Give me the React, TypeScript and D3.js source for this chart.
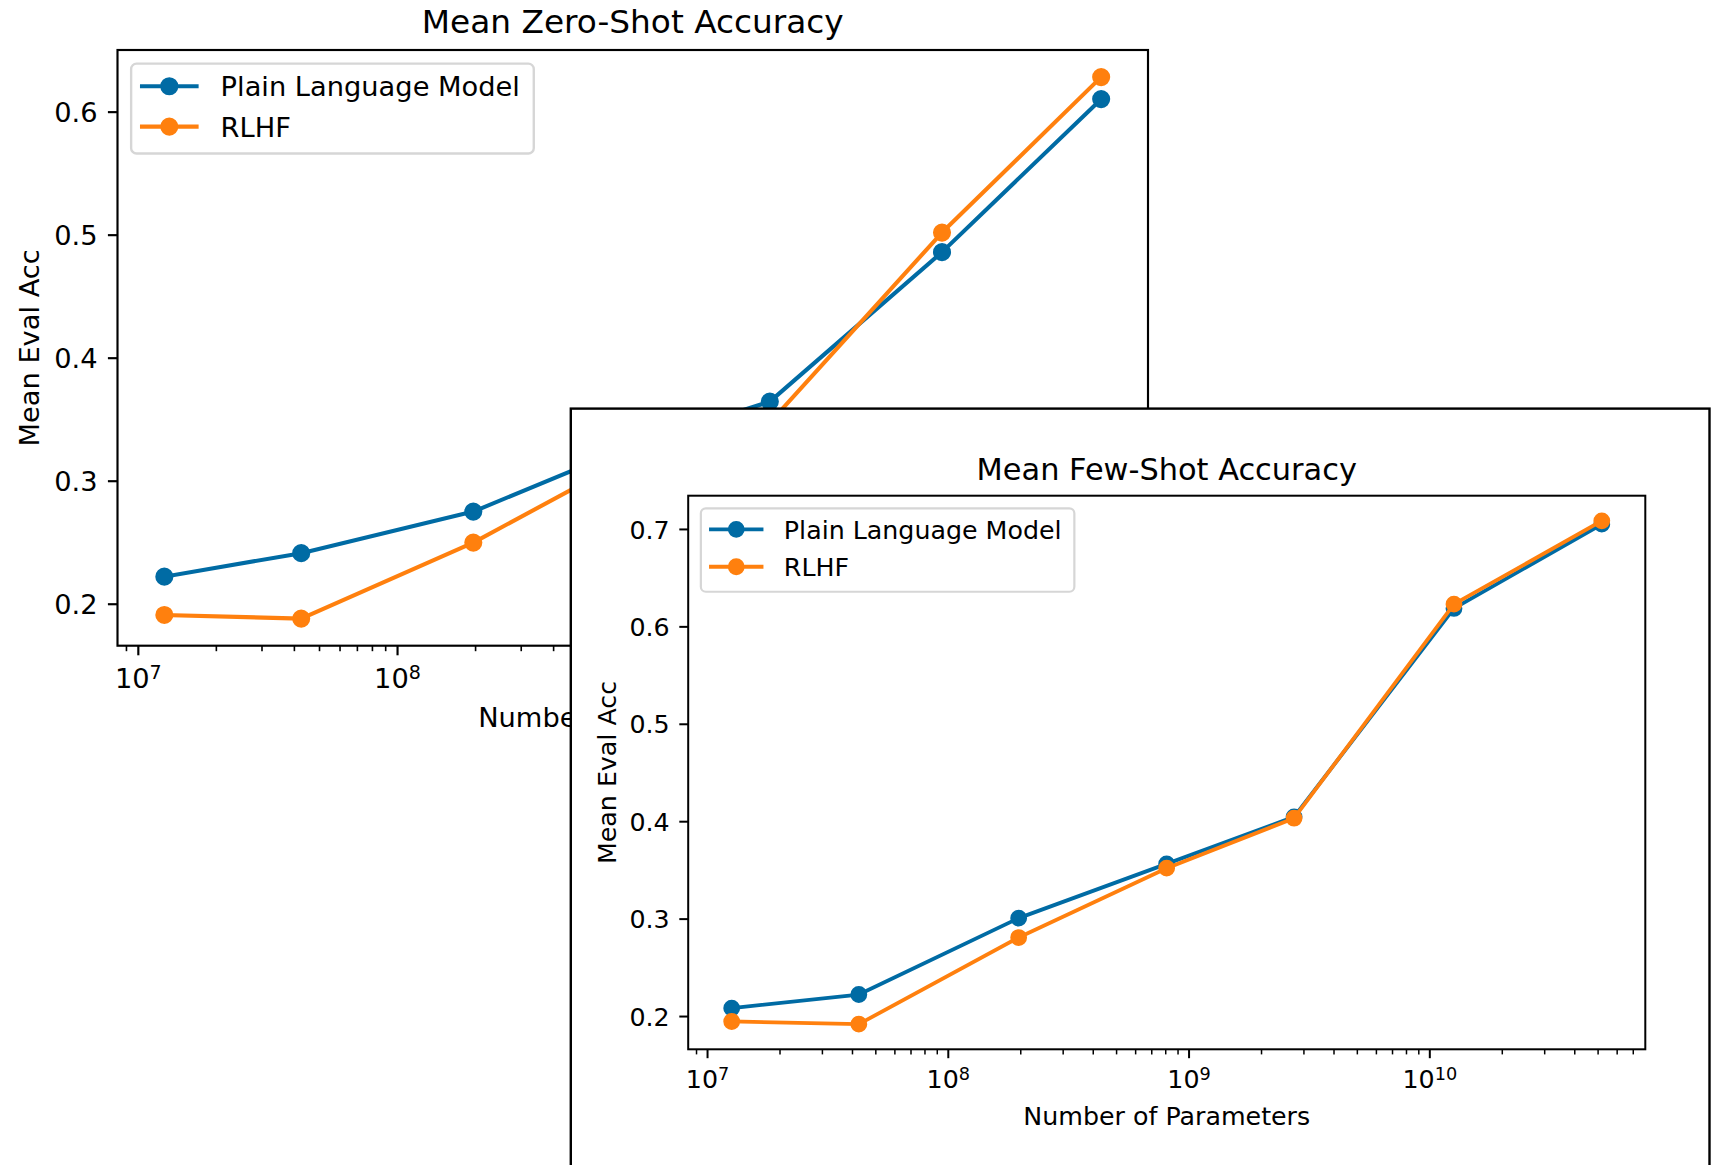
import React from "react";
import * as d3 from "d3";

// Number of parameters (x, log scale)
const PARAMS = [1.26e7, 4.25e7, 1.96e8, 8.07e8, 2.73e9, 1.26e10, 5.18e10];

// Mean zero-shot accuracy
const ZERO_PLAIN = [0.2224, 0.2415, 0.2753, 0.329, 0.3647, 0.4862, 0.6106];
const ZERO_RLHF = [0.1913, 0.1883, 0.2501, 0.32, 0.3476, 0.5021, 0.6285];

// Mean few-shot accuracy
const FEW_PLAIN = [0.2086, 0.2226, 0.301, 0.3567, 0.405, 0.6189, 0.7054];
const FEW_RLHF = [0.1949, 0.1922, 0.2811, 0.3523, 0.4036, 0.6233, 0.7088];

const SERIES_NAMES = ["Plain Language Model", "RLHF"];
const COLORS = ["#006BA4", "#FF800E"];

const ZERO_Y_TICKS = [0.2, 0.3, 0.4, 0.5, 0.6];
const FEW_Y_TICKS = [0.2, 0.3, 0.4, 0.5, 0.6, 0.7];
const X_TICK_EXPONENTS = [7, 8, 9, 10];

const TITLES = ["Mean Zero-Shot Accuracy", "Mean Few-Shot Accuracy"];
const X_LABEL = "Number of Parameters";
const Y_LABEL = "Mean Eval Acc";

const FONT = "DejaVu Sans, Verdana, sans-serif";

type ChartProps = {
  x0: number;
  y0: number;
  w: number;
  h: number;
  s: number;
  title: string;
  series: number[][];
  yTicks: number[];
};

function Chart({ x0, y0, w, h, s, title, series, yTicks }: ChartProps) {
  const lo = Math.log10(d3.min(PARAMS) as number);
  const hi = Math.log10(d3.max(PARAMS) as number);
  const mx = (hi - lo) * 0.05;
  const x = d3
    .scaleLog()
    .domain([Math.pow(10, lo - mx), Math.pow(10, hi + mx)])
    .range([x0, x0 + w]);
  const all = series.flat();
  const ymin = d3.min(all) as number;
  const ymax = d3.max(all) as number;
  const my = (ymax - ymin) * 0.05;
  const y = d3
    .scaleLinear()
    .domain([ymin - my, ymax + my])
    .range([y0 + h, y0]);

  const [dlo, dhi] = x.domain();
  const minor: number[] = [];
  for (let d = 5; d <= 11; d++) {
    for (let k = 2; k <= 9; k++) {
      const v = k * Math.pow(10, d);
      if (v >= dlo && v <= dhi) minor.push(v);
    }
  }
  const major = X_TICK_EXPONENTS.map((e) => Math.pow(10, e)).filter(
    (v) => v >= dlo && v <= dhi
  );

  const fs = 25.3 * s;
  const tfs = 30.4 * s;
  const lw = 3.8 * s;
  const r = 7.6 * s;

  const line = d3
    .line<number>()
    .x((_, i) => x(PARAMS[i]))
    .y((d) => y(d));

  const legL = x0 + 12.65 * s;
  const legT = y0 + 12.65 * s;

  return (
    <g>
      {/* data */}
      {series.map((vals, si) => (
        <g key={si}>
          <path
            d={line(vals) || ""}
            fill="none"
            stroke={COLORS[si]}
            strokeWidth={lw}
            strokeLinejoin="round"
            strokeLinecap="square"
          />
          {vals.map((v, i) => (
            <circle
              key={i}
              cx={x(PARAMS[i])}
              cy={y(v)}
              r={r}
              fill={COLORS[si]}
              stroke={COLORS[si]}
              strokeWidth={1.6 * s}
            />
          ))}
        </g>
      ))}
      {/* spines */}
      <rect
        x={x0}
        y={y0}
        width={w}
        height={h}
        fill="none"
        stroke="#000"
        strokeWidth={2 * s}
      />
      {/* y ticks */}
      {yTicks.map((t) => (
        <g key={"y" + t}>
          <line
            x1={x0}
            x2={x0 - 8.9 * s}
            y1={y(t)}
            y2={y(t)}
            stroke="#000"
            strokeWidth={2 * s}
          />
          <text
            x={x0 - 18.5 * s}
            y={y(t) + 0.3645 * fs}
            fontSize={fs}
            fontFamily={FONT}
            textAnchor="end"
            fill="#000"
          >
            {t.toFixed(1)}
          </text>
        </g>
      ))}
      {/* x minor ticks */}
      {minor.map((v) => (
        <line
          key={"m" + v}
          x1={x(v)}
          x2={x(v)}
          y1={y0 + h}
          y2={y0 + h + 5.1 * s}
          stroke="#000"
          strokeWidth={1.5 * s}
        />
      ))}
      {/* x major ticks */}
      {major.map((v) => (
        <g key={"M" + v}>
          <line
            x1={x(v)}
            x2={x(v)}
            y1={y0 + h}
            y2={y0 + h + 8.9 * s}
            stroke="#000"
            strokeWidth={2 * s}
          />
          <text
            x={x(v)}
            y={y0 + h + 39 * s}
            fontSize={fs}
            fontFamily={FONT}
            textAnchor="middle"
            fill="#000"
          >
            10
            <tspan fontSize={fs * 0.7} dy={-8.3 * s}>
              {String(Math.round(Math.log10(v)))}
            </tspan>
          </text>
        </g>
      ))}
      {/* axis labels */}
      <text
        x={x0 + w / 2}
        y={y0 + h + 75.7 * s}
        fontSize={fs}
        fontFamily={FONT}
        textAnchor="middle"
        fill="#000"
      >
        {X_LABEL}
      </text>
      <text
        transform={`translate(${x0 - 72.7 * s},${y0 + h / 2}) rotate(-90)`}
        fontSize={fs}
        fontFamily={FONT}
        textAnchor="middle"
        fill="#000"
      >
        {Y_LABEL}
      </text>
      {/* title */}
      <text
        x={x0 + w / 2}
        y={y0 - 15.5 * s}
        fontSize={tfs}
        fontFamily={FONT}
        textAnchor="middle"
        fill="#000"
      >
        {title}
      </text>
      {/* legend */}
      <rect
        x={legL}
        y={legT}
        width={373.5 * s}
        height={83.4 * s}
        rx={5 * s}
        ry={5 * s}
        fill="#fff"
        fillOpacity={0.8}
        stroke="#d6d6d6"
        strokeWidth={2.2 * s}
      />
      {SERIES_NAMES.map((name, i) => {
        const ry = legT + 21 * s + i * 37.4 * s;
        return (
          <g key={name}>
            <line
              x1={legL + 10.1 * s}
              x2={legL + 60.7 * s}
              y1={ry}
              y2={ry}
              stroke={COLORS[i]}
              strokeWidth={lw}
              strokeLinecap="square"
            />
            <circle
              cx={legL + 35.4 * s}
              cy={ry}
              r={r}
              fill={COLORS[i]}
              stroke={COLORS[i]}
              strokeWidth={1.6 * s}
            />
            <text
              x={legL + 83 * s}
              y={ry + 0.3645 * fs}
              fontSize={fs}
              fontFamily={FONT}
              fill="#000"
            >
              {name}
            </text>
          </g>
        );
      })}
    </g>
  );
}

export default function App() {
  return (
    <div style={{ position: "absolute", left: 0, top: 0 }}>
      <svg
        width={1721}
        height={1165}
        viewBox="0 0 1721 1165"
        style={{ display: "block", background: "#fff" }}
      >
        <rect x={0} y={0} width={1721} height={1165} fill="#fff" />
        <Chart
          x0={117.5}
          y0={50}
          w={1030.5}
          h={595.7}
          s={1.078}
          title={TITLES[0]}
          series={[ZERO_PLAIN, ZERO_RLHF]}
          yTicks={ZERO_Y_TICKS}
        />
        <rect
          x={570.8}
          y={408.6}
          width={1138.7}
          height={900}
          fill="#fff"
          stroke="#000"
          strokeWidth={2.4}
        />
        <Chart
          x0={688.2}
          y0={495.7}
          w={957.1}
          h={553.6}
          s={1}
          title={TITLES[1]}
          series={[FEW_PLAIN, FEW_RLHF]}
          yTicks={FEW_Y_TICKS}
        />
      </svg>
    </div>
  );
}
